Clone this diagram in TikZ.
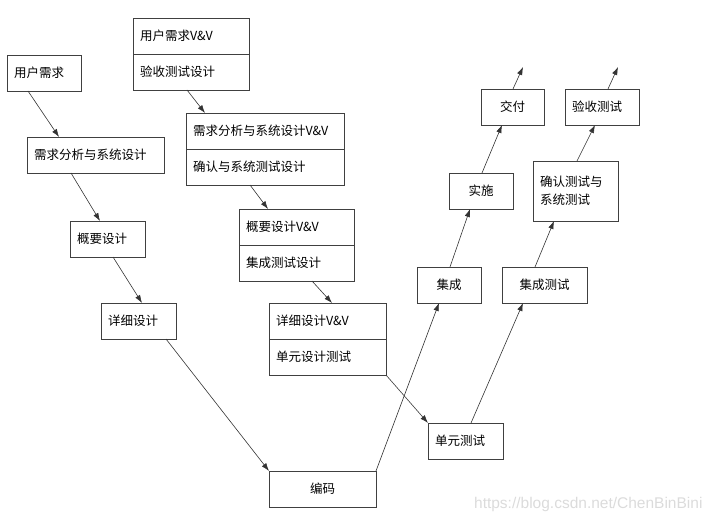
\documentclass[tikz,border=0pt]{standalone}
\usepackage{fontspec}
\setmainfont{Noto Sans CJK SC}
\newfontfamily\wmfont{Liberation Sans}
\usetikzlibrary{positioning,arrows.meta}

\begin{document}
\begin{tikzpicture}[x=1pt, y=-1pt,
    font=\fontsize{12.5}{15}\selectfont, >={Latex[length=8pt,width=5.5pt]},
    box/.style={draw=black!75, line width=0.9pt, minimum height=36pt, inner xsep=7pt, inner ysep=2pt,
      outer sep=0pt, align=left, anchor=north west},
    cbox/.style={box, align=center},
    flow/.style={->, draw=black!80, line width=0.6pt},
    wmark/.style={font=\wmfont\fontsize{15.5}{17}\selectfont, text=black!14}]
  \useasboundingbox (0,0) rectangle (714,521);
  % left leg
  \node[box, text width=60pt] (ur) at (7,55) {用户需求};
  \node[box, text width=123pt] (ra) at (27,137) {需求分析与系统设计};
  \node[box, text width=61pt] (hd) at (70,221) {概要设计};
  \node[box, text width=61pt] (dd) at (101,303) {详细设计};
  \node[cbox, minimum width=107pt] (code) at (269,471) {编码};
  % V&V column
  \node[box, text width=102pt] (urv) at (133,18) {用户需求V\&V};
  \node[box, text width=102pt, below=0pt of urv] (urt) {验收测试设计};
  \node[box, text width=144pt] (rav) at (186,113) {需求分析与系统设计V\&V};
  \node[box, text width=144pt, below=0pt of rav] (rat) {确认与系统测试设计};
  \node[box, text width=101pt] (hdv) at (239,209) {概要设计V\&V};
  \node[box, text width=101pt, below=0pt of hdv] (hdt) {集成测试设计};
  \node[box, text width=103pt] (ddv) at (269,303) {详细设计V\&V};
  \node[box, text width=103pt, below=0pt of ddv] (ddt) {单元设计测试};
  % right leg
  \node[box, text width=61pt] (ut) at (428,423) {单元测试};
  \node[cbox, minimum width=64pt] (integ) at (417,267) {集成};
  \node[cbox, minimum width=85pt] (it) at (502,267) {集成测试};
  \node[cbox, minimum width=64pt] (impl) at (449,173) {实施};
  \node[box, text width=71pt, minimum height=60pt] (st) at (533,161) {确认测试与\\[3pt]系统测试};
  \node[cbox, minimum width=63pt] (deliv) at (481,89) {交付};
  \node[box, text width=60pt] (at) at (565,89) {验收测试};
  \coordinate (deliv-out) at (523,67);
  \coordinate (at-out) at (618,67);
  \draw[flow] ([xshift=21pt]ur.south west) -- ([xshift=32pt]ra.north west);
  \draw[flow] ([xshift=44pt]ra.south west) -- ([xshift=30pt]hd.north west);
  \draw[flow] ([xshift=43pt]hd.south west) -- ([xshift=41pt]dd.north west);
  \draw[flow] ([xshift=65pt]dd.south west) -- (code.north west);
  \draw[flow] ([xshift=54pt]urt.south west) -- ([xshift=19pt]rav.north west);
  \draw[flow] ([xshift=64pt]rat.south west) -- ([xshift=29pt]hdv.north west);
  \draw[flow] ([xshift=73pt]hdt.south west) -- ([xshift=63pt]ddv.north west);
  \draw[flow] (ddt.south east) -- (ut.north west);
  \draw[flow] (code.north east) -- ([xshift=22pt]integ.south west);
  \draw[flow] ([xshift=43pt]ut.north west) -- ([xshift=21pt]it.south west);
  \draw[flow] ([xshift=33pt]integ.north west) -- ([xshift=21pt]impl.south west);
  \draw[flow] ([xshift=33pt]it.north west) -- ([xshift=21pt]st.south west);
  \draw[flow] ([xshift=33pt]impl.north west) -- ([xshift=21pt]deliv.south west);
  \draw[flow] ([xshift=44pt]st.north west) -- ([xshift=30pt]at.south west);
  \draw[flow] ([xshift=32pt]deliv.north west) -- (deliv-out);
  \draw[flow] ([xshift=43pt]at.north west) -- (at-out);
  \node[wmark, anchor=east] (wm) at (706,504) {https://blog.csdn.net/ChenBinBini};
\end{tikzpicture}
\end{document}
